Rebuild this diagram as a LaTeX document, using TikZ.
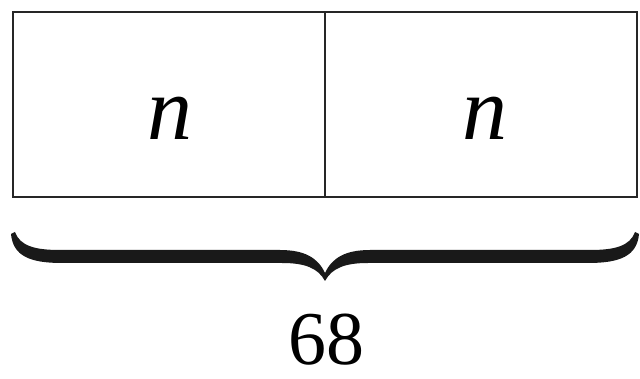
\documentclass[tikz,border=0pt]{standalone}
\usepackage{fontspec}
\setmainfont{Liberation Serif}
\begin{document}
\begin{tikzpicture}[x=1pt,y=-1pt,
  cell/.style={draw=black!85,line width=1.8pt,minimum width=312pt,minimum height=185pt,inner sep=0pt,outer sep=0pt},
  var/.style={font=\fontsize{90}{90}\selectfont\itshape,inner sep=0pt},
  num/.style={font=\fontsize{76}{76}\selectfont,inner sep=0pt},
  bracefill/.style={fill=black!90,draw=none}]
\useasboundingbox (0,0) rectangle (640,379);
\node[cell] (L) at (169,104.5) {};
\node[cell] (R) at (481,104.5) {};
\node[var] (nL) at (170,118) {n};
\node[var] (nR) at (485,118) {n};
% brace
\fill[bracefill]
  (11,234) .. controls (13,256) and (30,263) .. (62,263)
  -- (282,263) .. controls (305,263) and (318,268) .. (325,281)
  .. controls (332,268) and (345,263) .. (368,263)
  -- (588,263) .. controls (620,263) and (637,256) .. (639,234)
  -- (635,232) .. controls (630,246) and (615,250) .. (590,250)
  -- (370,250) .. controls (345,250) and (332,258) .. (325,273)
  .. controls (318,258) and (305,250) .. (280,250)
  -- (60,250) .. controls (35,250) and (20,246) .. (15,232) -- cycle;
\node[num,anchor=base] (total) at (326,364) {68};
\end{tikzpicture}
\end{document}
